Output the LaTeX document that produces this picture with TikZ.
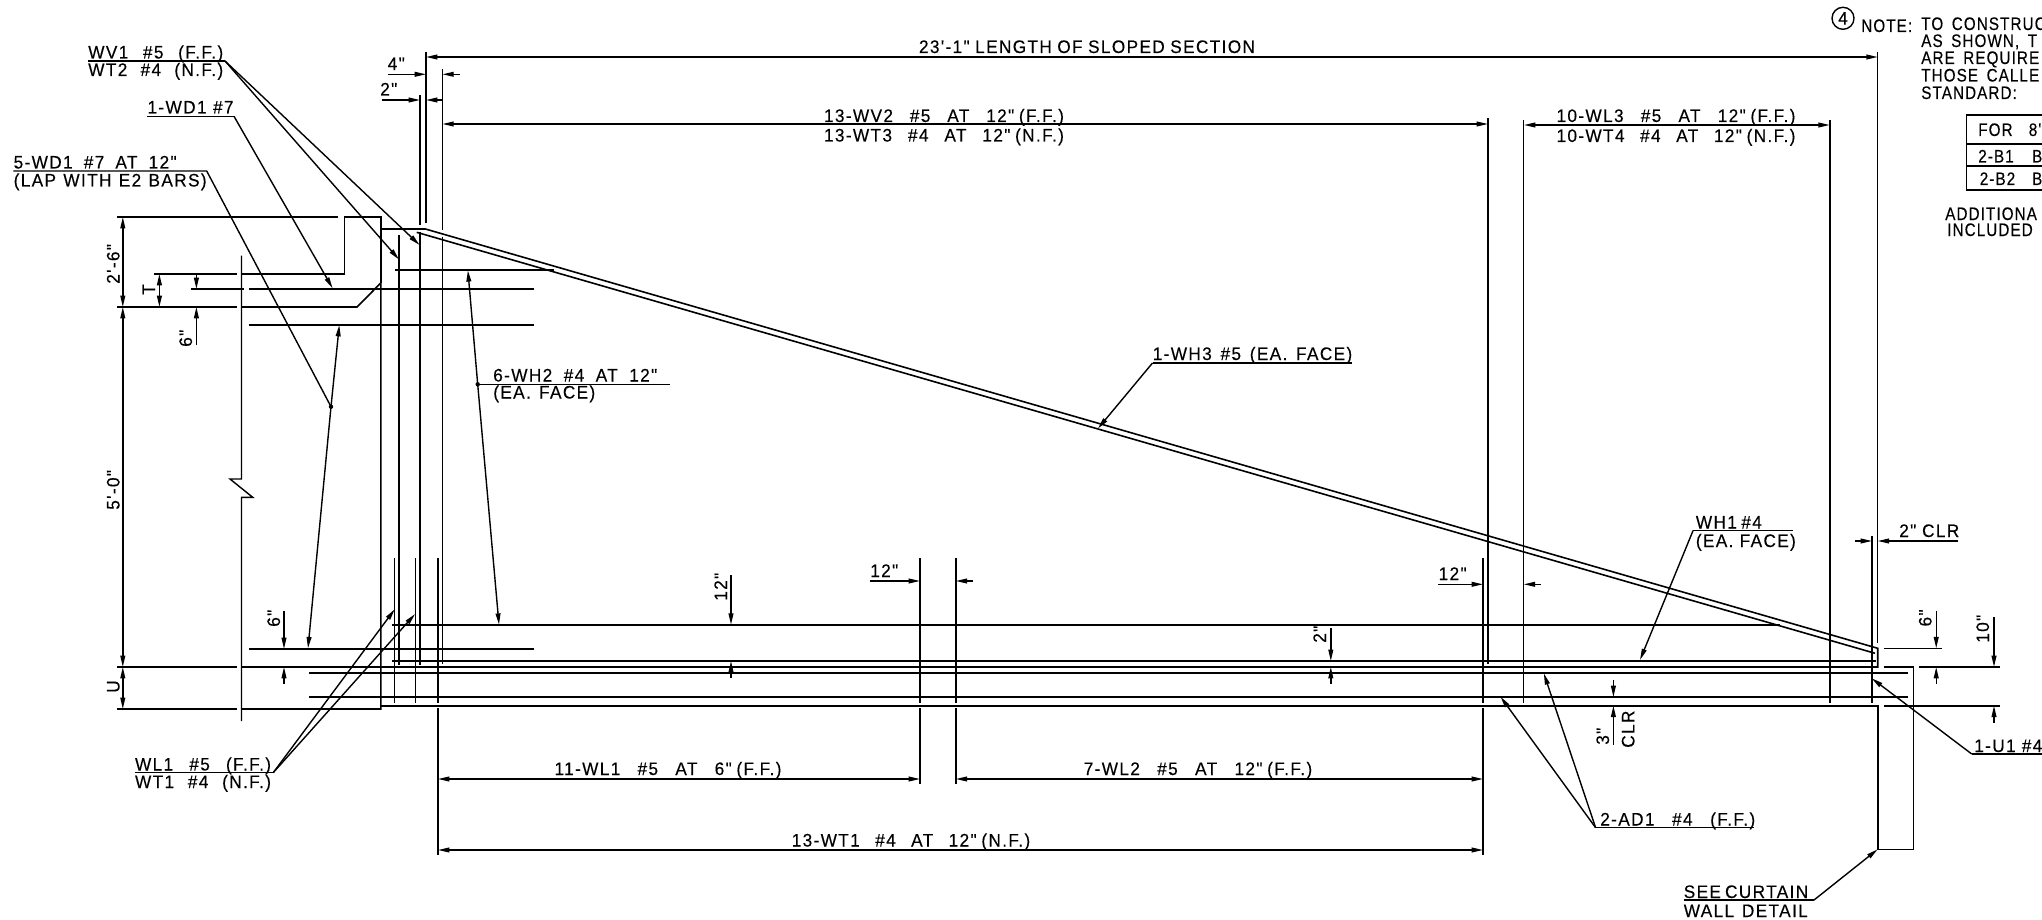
\documentclass[tikz,border=0pt]{standalone}
\usepackage{fontspec}
\usepackage{tikz}
\usetikzlibrary{arrows.meta}
\newfontfamily\cadfont[FakeStretch=0.95,LetterSpace=7.5,WordSpace=1,FakeBold=0.25]{Liberation Sans}
\newfontfamily\notefont[FakeStretch=0.84,LetterSpace=6,WordSpace=1.6,FakeBold=0.25]{Liberation Sans}
\newcommand\fitline[2]{\makebox[\dimexpr #1pt*3/4\relax][s]{#2}}
\newcommand\shortgap{\hspace{3.5pt}}
\tikzset{
  cadlabel/.style={anchor=base west,inner sep=0pt,font=\fontsize{13.6}{15}\cadfont},
  cadcenter/.style={cadlabel,anchor=base},
  cadup/.style={cadlabel,rotate=90},
  notelabel/.style={cadlabel,font=\fontsize{13.6}{15}\notefont},
  wire/.style={line width=1.2pt},
  thinwire/.style={line width=1.05pt},
  lead/.style={thinwire,-{Triangle[length=8.5pt,width=3.6pt]}},
  spanlead/.style={thinwire,{Triangle[length=8.5pt,width=3.6pt]}-{Triangle[length=8.5pt,width=3.6pt]}}
}
\begin{document}
\begin{tikzpicture}[x=0.75pt,y=0.75pt,yscale=-1,xscale=1]
  \useasboundingbox (0,0) rectangle (2042,920);
  \clip (0,0) rectangle (2042,920);

  %Wall outline
  \draw [wire] (117,217) -- (338.4,217);
  \draw [wire] (380.8,283) -- (380.8,217) -- (344.6,217) -- (344.6,274) -- (241.5,274);
  \draw [wire] (154,274) -- (236.6,274);
  \draw [wire] (117,307) -- (236.6,307);
  \draw [wire] (241.5,307) -- (357,307) -- (380.8,283) -- (380.8,709) -- (241.5,709);
  \draw [wire] (117,709) -- (236.6,709);
  \draw [wire] (117,667) -- (236.6,667);
  \draw [wire] (241.5,667) -- (1877.7,667) -- (1877.7,648.3) -- (425.4,229) -- (380.8,229);
  \draw [wire] (1883.5,667) -- (1913.4,667) -- (1913.4,849.3) -- (1877.7,849.3) -- (1877.7,705.7) -- (380.8,705.7);
  \draw [wire] (1883.5,705.7) -- (2000,705.7);
  \draw [wire] (1919,667) -- (2000,667);
  \draw [wire] (1883.5,648.3) -- (1941.6,648.3);
  %Break line
  \draw [thinwire] (241.5,255.7) -- (241.5,479) -- (230,479) -- (252.7,497.3) -- (241.5,497.3) -- (241.5,721);

  %Horizontal bars
  \draw [wire] (249,289) -- (534,289);
  \draw [wire] (191,289) -- (244,289);
  \draw [wire] (249,325) -- (534,325);
  \draw [wire] (395,269.7) -- (553.6,269.7);
  \draw [wire] (249,649) -- (534,649);
  \draw [wire] (391.5,624.7) -- (1779.5,624.7);
  \draw [wire] (391.5,661) -- (1875.5,661);
  \draw [wire] (309,672.7) -- (1908,672.7);
  \draw [wire] (309,697) -- (1908,697);
  \draw [wire] (416.7,232.3) -- (1875,653.3);

  %Vertical bars and extension lines
  \draw [thinwire] (399,235) -- (399,665);
  \draw [thinwire] (420,95) -- (420,225);
  \draw [thinwire] (420,231.7) -- (420,665);
  \draw [thinwire] (426,51.7) -- (426,223);
  \draw [thinwire] (442.4,69) -- (442.4,230);
  \draw [thinwire] (442.4,236.7) -- (442.4,664);
  \foreach \barx in {394.6,415.2} {
    \draw [thinwire] (\barx,558.3) -- (\barx,702.7);
  }
  \draw [thinwire] (438,558.3) -- (438,702.7);
  \draw [thinwire] (438,708.3) -- (438,855);
  \foreach \barx in {920,955.8} {
    \draw [thinwire] (\barx,558.3) -- (\barx,702.7);
    \draw [thinwire] (\barx,708.3) -- (\barx,784);
  }
  \draw [thinwire] (1483,558.3) -- (1483,702.7);
  \draw [thinwire] (1483,708.3) -- (1483,855);
  \draw [thinwire] (1488,118.3) -- (1488,664);
  \draw [thinwire] (1523.7,120) -- (1523.7,702.7);
  \draw [thinwire] (1830,120) -- (1830,702.7);
  \draw [thinwire] (1872,536) -- (1872,702.7);
  \draw [thinwire] (1877.7,51.7) -- (1877.7,642.7);

  %Long dimensions
  \draw [spanlead] (426,57) -- (1877.7,57);
  \draw [spanlead] (442.4,124) -- (1488,124);
  \draw [spanlead] (1524,125) -- (1829.7,125);
  \draw [spanlead] (438,779) -- (920,779);
  \draw [spanlead] (955.8,779) -- (1483,779);
  \draw [spanlead] (438,850) -- (1483,850);
  \draw [spanlead] (122.8,217) -- (122.8,307);
  \draw [spanlead] (122.8,307) -- (122.8,667);
  \draw [spanlead] (122.8,667) -- (122.8,709);
  \draw [spanlead] (159.4,274) -- (159.4,307);

  %Short dimension arrows
  \draw [lead] (387.5,74.3) -- (426,74.3);
  \draw [lead] (460,74.3) -- (442.4,74.3);
  \draw [lead] (381.7,100) -- (420,100);
  \draw [lead] (442.4,100) -- (426,100);
  \draw [lead] (196.4,274) -- (196.4,289);
  \draw [lead] (196.4,345) -- (196.4,307);
  \draw [lead] (284,610.7) -- (284,649);
  \draw [lead] (284,684) -- (284,667);
  \draw [lead] (870,581) -- (920,581);
  \draw [lead] (973,581) -- (955.8,581);
  \draw [lead] (1438.4,584.3) -- (1483,584.3);
  \draw [lead] (1540.7,584.3) -- (1523.7,584.3);
  \draw [lead] (731,575) -- (731,624.7);
  \draw [lead] (731,678) -- (731,661);
  \draw [lead] (1330.8,628) -- (1330.8,661);
  \draw [lead] (1330.8,684) -- (1330.8,667);
  \draw [lead] (1613.4,680) -- (1613.4,697);
  \draw [lead] (1613.4,745) -- (1613.4,705.7);
  \draw [lead] (1855,541) -- (1872,541);
  \draw [lead] (1958,541) -- (1877.7,541);
  \draw [lead] (1936.2,610.7) -- (1936.2,648.3);
  \draw [lead] (1936.2,684) -- (1936.2,667);
  \draw [lead] (1994,617) -- (1994,667);
  \draw [lead] (1994,723) -- (1994,705.7);

  %Leader start points
  \coordinate (wvend) at (225,61);
  \coordinate (wdend) at (234,116.3);
  \coordinate (lapend) at (206.7,171);
  \coordinate (lapdot) at (331,406.7);
  \coordinate (wlend) at (273.2,772.7);
  \coordinate (wh2dot) at (477.7,384.3);
  \coordinate (wh3end) at (1152.5,363);
  \coordinate (wh1end) at (1693,530.7);
  \coordinate (adend) at (1595.6,827.7);
  \coordinate (u1end) at (1971.7,754);
  \coordinate (curtainend) at (1814,900);

  %Leaders
  \draw [thinwire] (88,61) -- (wvend);
  \draw [lead] (wvend) -- (419.6,245);
  \draw [lead] (wvend) -- (399,259.5);
  \draw [thinwire] (147.3,116.3) -- (wdend);
  \draw [lead] (wdend) -- (332.6,288.3);
  \draw [thinwire] (13.4,171) -- (lapend) -- (lapdot);
  \fill (lapdot) circle [radius=2.2];
  \draw [lead] (lapdot) -- (339.3,325);
  \draw [lead] (lapdot) -- (308,648.3);
  \draw [thinwire] (wh2dot) -- (669.6,384.3);
  \fill (wh2dot) circle [radius=2.2];
  \draw [lead] (wh2dot) -- (467.9,270.3);
  \draw [lead] (wh2dot) -- (499,624.7);
  \draw [thinwire] (134.8,772.7) -- (wlend);
  \draw [lead] (wlend) -- (394.8,609.2);
  \draw [lead] (wlend) -- (415.1,614);
  \draw [thinwire] (wh3end) -- (1352,363);
  \draw [lead] (wh3end) -- (1098,428.5);
  \draw [thinwire] (wh1end) -- (1793,530.7);
  \draw [lead] (wh1end) -- (1640,660);
  \draw [thinwire] (adend) -- (1753.6,827.7);
  \draw [lead] (adend) -- (1500.5,696.7);
  \draw [lead] (adend) -- (1543.8,673.3);
  \draw [thinwire] (u1end) -- (2042,754);
  \draw [lead] (u1end) -- (1871.7,678.3);
  \draw [thinwire] (1683.5,900) -- (curtainend);
  \draw [lead] (curtainend) -- (1877.7,849.3);

  %Table
  \draw [wire] (2042,115) -- (1966.3,115) -- (1966.3,190) -- (2042,190);
  \draw [wire] (1966.3,144) -- (2042,144);
  \draw [wire] (1966.3,166) -- (2042,166);

  % Text Node
  \node (wvlabel) [cadlabel] at (88,58.5) {\fitline{135}{WV1 \#5 (F.F.)}};
  \node (wtlabel) [cadlabel] at (88,76) {\fitline{135}{WT2 \#4 (N.F.)}};
  \node (wdlabel) [cadlabel] at (147.3,113.5) {\fitline{86}{1-WD1 \#7}};
  \node (laplabel) [cadlabel] at (13.4,168.5) {\fitline{163}{5-WD1 \#7 AT 12"}};
  \node (lapnote) [cadlabel] at (13.4,186.5) {\fitline{193}{(LAP WITH E2 BARS)}};
  \node (wh2label) [cadlabel] at (493,381.5) {\fitline{164}{6-WH2 \#4 AT 12"}};
  \node (wh2note) [cadlabel] at (493,398.5) {\fitline{102}{(EA. FACE)}};
  \node (wl1label) [cadlabel] at (134.8,770.5) {\fitline{136}{WL1 \#5 (F.F.)}};
  \node (wt1label) [cadlabel] at (134.8,788) {\fitline{136}{WT1 \#4 (N.F.)}};
  \node (fourin) [cadlabel] at (387.5,70) {4"};
  \node (twoin) [cadlabel] at (380,95.5) {2"};
  \node (lenlabel) [cadcenter] at (1087,53) {\fitline{336}{23'-1" LENGTH OF SLOPED SECTION}};
  \node (wv2label) [cadcenter] at (944,122) {\fitline{240}{13-WV2 \#5 AT 12"\shortgap(F.F.)}};
  \node (wt3label) [cadcenter] at (944,141.5) {\fitline{240}{13-WT3 \#4 AT 12"\shortgap(N.F.)}};
  \node (wl3label) [cadcenter] at (1676,122) {\fitline{239}{10-WL3 \#5 AT 12"\shortgap(F.F.)}};
  \node (wt4label) [cadcenter] at (1676,142) {\fitline{239}{10-WT4 \#4 AT 12"\shortgap(N.F.)}};
  \node (wh3label) [cadlabel] at (1152.5,360) {\fitline{199.5}{1-WH3 \#5 (EA. FACE)}};
  \node (wh1label) [cadlabel] at (1695.6,528.5) {\fitline{66}{WH1 \#4}};
  \node (wh1note) [cadlabel] at (1695.6,547) {\fitline{100}{(EA. FACE)}};
  \node (clrlabel) [cadlabel] at (1899,537) {\fitline{60}{2" CLR}};
  \node (wl1span) [cadcenter] at (668,775) {\fitline{227}{11-WL1 \#5 AT 6"\shortgap(F.F.)}};
  \node (wl2span) [cadcenter] at (1198,775) {\fitline{228.5}{7-WL2 \#5 AT 12"\shortgap(F.F.)}};
  \node (wt1span) [cadcenter] at (911,846.5) {\fitline{238.5}{13-WT1 \#4 AT 12"\shortgap(N.F.)}};
  \node (adlabel) [cadlabel] at (1600,825.5) {\fitline{155}{2-AD1 \#4 (F.F.)}};
  \node (u1label) [cadlabel] at (1974,752) {1-U1 \#4};
  \node (seelabel) [cadlabel] at (1683.5,898) {\fitline{124}{SEE CURTAIN}};
  \node (walllabel) [cadlabel] at (1683.5,917) {\fitline{124}{WALL DETAIL}};
  \node (midtwelve) [cadlabel] at (870,577) {12"};
  \node (endtwelve) [cadlabel] at (1438.4,580) {12"};

  % Text Node
  \node (heighta) [cadup] at (119.5,284) {2'-6"};
  \node (heightb) [cadup] at (119.5,510) {5'-0"};
  \node (ulabel) [cadup] at (119.5,693) {U};
  \node (tlabel) [cadup] at (155,295) {T};
  \node (sixa) [cadup] at (192,347) {6"};
  \node (sixb) [cadup] at (280,627) {6"};
  \node (twelveup) [cadup] at (727,601) {12"};
  \node (twoup) [cadup] at (1326,643) {2"};
  \node (threeup) [cadup] at (1609,745) {3"};
  \node (clrup) [cadup] at (1634.4,748) {CLR};
  \node (sixc) [cadup] at (1931.5,626.7) {6"};
  \node (tenup) [cadup] at (1989,643) {10"};

  % Text Node
  \node (noteno) [draw,circle,thinwire,inner sep=0pt,minimum size=16.5pt,font=\fontsize{13.6}{15}\cadfont] at (1843,18.3) {4};
  \node (notehead) [notelabel] at (1861,32) {NOTE:};
  \node (notea) [notelabel] at (1921,30) {TO CONSTRUC};
  \node (noteb) [notelabel] at (1921,47) {AS SHOWN, T};
  \node (notec) [notelabel] at (1921,64) {ARE REQUIRE};
  \node (noted) [notelabel] at (1921,81.5) {THOSE CALLE};
  \node (notee) [notelabel] at (1921,99) {STANDARD:};
  \node (rowa) [notelabel] at (1978,136) {\fitline{63}{FOR 8'}};
  \node (rowb) [notelabel] at (1978,162.5) {\fitline{64}{2-B1 B}};
  \node (rowc) [notelabel] at (1979.5,185) {\fitline{62.5}{2-B2 B}};
  \node (addl) [notelabel] at (1945,220) {\fitline{97}{ADDITIONA}};
  \node (incl) [notelabel] at (1947,236) {INCLUDED};
\end{tikzpicture}
\end{document}
